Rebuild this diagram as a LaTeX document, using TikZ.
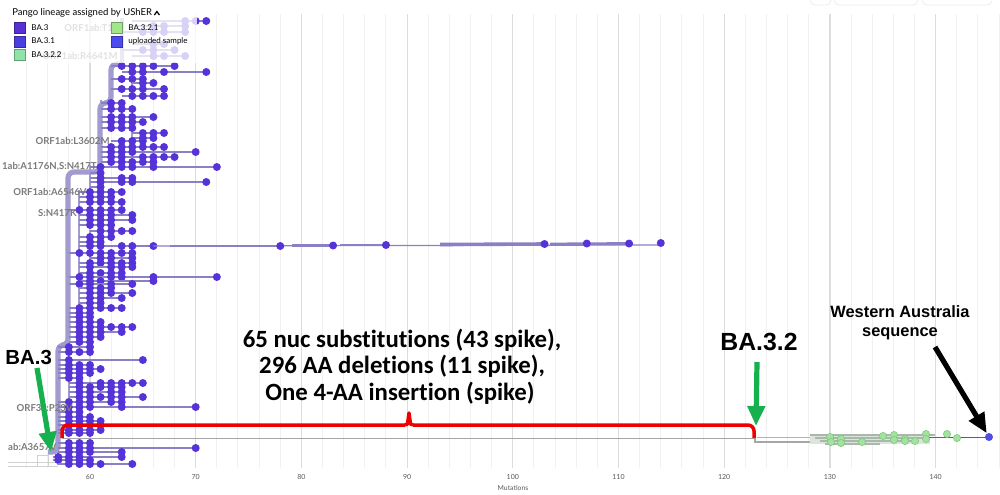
\documentclass[tikz,border=0pt]{standalone}
\usepackage{fontspec}
\setmainfont{Lato}
\newfontfamily\calib[Ligatures=NoCommon]{Carlito}
\newfontfamily\arialf{Liberation Sans}
\usetikzlibrary{arrows.meta}
\definecolor{dotc}{HTML}{5533D9}
\definecolor{brc}{HTML}{8A80C6}
\definecolor{trk}{HTML}{A29BCF}
\definecolor{gminor}{HTML}{F0F0F0}
\definecolor{gmajor}{HTML}{DCDCDC}
\definecolor{lblc}{HTML}{7B7B7B}
\definecolor{redb}{HTML}{EE0000}
\definecolor{greena}{HTML}{16B04F}
\definecolor{ltg}{HTML}{A3E3A0}
\definecolor{ltgb}{HTML}{80C880}
\definecolor{sqa}{HTML}{5A2FD4}
\definecolor{sqb}{HTML}{4A3FE0}
\definecolor{sqc}{HTML}{8FE3A8}
\definecolor{sqd}{HTML}{A2E58C}
\definecolor{sqe}{HTML}{4B4BF0}
\definecolor{upl}{HTML}{4F4FE8}
\definecolor{bandc}{HTML}{A9B9A9}
\tikzset{
  branch/.style={brc, line width=0.6pt},
  trunkthick/.style={trk, line width=2.6pt, rounded corners=3},
  subtrunk/.style={trk, line width=1pt},
  axlbl/.style={font=\fontsize{3.5}{4}\selectfont, text=black!65, inner sep=0},
  treelbl/.style={font=\bfseries\fontsize{4.8}{5.5}\selectfont, text=lblc, inner sep=0, anchor=east},
  leglbl/.style={font=\fontsize{4}{5}\selectfont, inner sep=0, anchor=west},
  legsq/.style={line width=0.3pt},
  bigtxt/.style={font=\calib\bfseries\fontsize{12.4}{13}\selectfont, inner sep=0, anchor=base},
  cladetxt/.style={font=\arialf\bfseries, inner sep=0, anchor=base west},
  fatarrow/.style={line width=2.6pt, -{Triangle[length=10pt,width=8.5pt]}},
}
\begin{document}
\begin{tikzpicture}[x=0.5pt,y=-0.5pt, declare function={mx(\m)=90+(\m-60)*10.57;}]
\useasboundingbox (0,0) rectangle (1000,494);
\fill[white] (0,0) rectangle (1000,494);
% faint toolbar edges at top right
\draw[black!7, line width=0.4pt, rounded corners=2] (810,0) -- (811,5) -- (830,5) -- (831,0);
\draw[black!7, line width=0.4pt, rounded corners=2] (834,0) -- (835,5) -- (917,5) -- (918,0);
\draw[black!7, line width=0.4pt, rounded corners=2] (922,0) -- (923,5) -- (991,5) -- (992,0);
% grid
\foreach \m in {54,56,...,146} { \draw[gminor, line width=0.5pt] ({mx(\m)},14) -- ({mx(\m)},468); }
\foreach \m in {60,70,...,140} { \draw[gmajor, line width=0.6pt] ({mx(\m)},14) -- ({mx(\m)},468); }
% axis
\foreach \m in {60,70,...,140} { \node[axlbl] (t\m) at ({mx(\m)},477) {\m}; }
\node[axlbl, font=\fontsize{3.4}{4}\selectfont] (xlab) at (513,488) {Mutations};

% root lines
\draw[black!18, line width=0.5pt] (8,462) -- (58,462);
\draw[black!18, line width=0.5pt] (8,466) -- (58,466);
\draw[black!18, line width=0.5pt] (37,455) rectangle (48,466);
% BA.3.2 branch
\draw[black!35, line width=0.6pt] (62,438.5) -- (755,438.5) -- (755,442) -- (812,442);
\draw[black!30, line width=0.5pt] (757,437) -- (830,437);
\fill[bandc!40] (810,434) rectangle (930,444);
\draw[bandc, line width=0.6pt] (810,435) -- (935,435);
\draw[bandc, line width=0.6pt] (815,438) -- (925,438);
\draw[bandc, line width=0.6pt] (820,441) -- (915,441);
\draw[bandc, line width=0.6pt] (825,444) -- (880,444);
\draw[upl, line width=0.5pt] (925,437) -- (989,437);
% sub trunks
\draw[subtrunk] ({mx(63)},20) -- ({mx(63)},66);
\draw[subtrunk] ({mx(62)},66) -- ({mx(62)},96);
\draw[subtrunk] ({mx(64)},70) -- ({mx(64)},96);
\draw[subtrunk] ({mx(61)},100) -- ({mx(61)},165);
\draw[subtrunk] ({mx(64)},130) -- ({mx(64)},141);
\draw[subtrunk] ({mx(60)},165) -- ({mx(60)},190);
\draw[subtrunk] ({mx(59)},190) -- ({mx(59)},300);
\draw[subtrunk] ({mx(60)},230) -- ({mx(60)},300);
\draw[subtrunk] ({mx(58)},250) -- ({mx(58)},345);
\draw[subtrunk] ({mx(59)},300) -- ({mx(59)},345);
\draw[subtrunk] ({mx(58)},380) -- ({mx(58)},400);
\draw[subtrunk] ({mx(57)},345) -- ({mx(57)},465);
% thick trunk
\draw[trunkthick] (48,452) -- (58,452) -- (58,345) -- (68,345) -- (68,172) -- (100,172) -- (100,103) -- (111,103) -- (111,64) -- (122,64);
\draw[trk, line width=1.8pt] (122,64) -- (122,18);
% rows
\foreach \yy/\aa/\bb/\ds in {
21/64/71/{69,70,71}, 26/64/69/{66,67,69}, 32/63/69/{65,66,67,69},
44/64/67/{66,67}, 50/63/68/{65,66,68}, 56/64/69/{66,67,69},
66/62/68/{63,64,65,66,68}, 72/63/71/{64,65,67,71}, 79/62/65/{63,64,65},
83/64/66/{65,66}, 89/62/67/{63,64,65,67}, 96/63/67/{64,65,66,67},
103/61/63/{62,63}, 109/61/64/{62,63,64}, 117/61/66/{62,63,64,66},
122/61/65/{62,63,64,65}, 128/61/64/{62,63,64}, 133/64/67/{65,66,67},
138/64/66/{65,66}, 141/62/65/{63,64,65}, 147/61/67/{62,63,64,65,66,67},
152/61/70/{62,63,64,70}, 157/61/68/{62,63,65,66,67,68}, 162/61/66/{62,63,64,65,66},
167/60/72/{61,63,64,66,72}, 173/60/61/{61}, 178/60/64/{61,63,64},
182/60/71/{61,63,64,71}, 187/60/61/{61}, 192/59/63/{60,61,62,63},
197/59/62/{60,61,62}, 202/59/63/{60,61,62,63}, 210/58/63/{59,60,61,62,63},
215/59/64/{60,61,62,64}, 220/59/64/{60,61,62,64}, 225/59/62/{60,61,62},
231/60/64/{61,62,63,64}, 237/59/62/{60,61,62}, 242/59/61/{60,61},
246/59/66/{60,61,63,64,66}, 253/58/64/{59,60,61,62,63,64}, 258/60/64/{61,62,64},
263/59/64/{60,61,62,63,64}, 267/59/64/{60,62,63,64}, 273/59/63/{60,61,62,63},
277/58/72/{59,60,62,63,66,72}, 281/59/66/{60,61,66}, 284/58/64/{59,60,62,64},
288/59/62/{60,61,62}, 293/59/64/{60,61,62,64}, 298/59/63/{60,61,63},
303/59/61/{60,61}, 308/58/63/{59,60,61,62,63}, 313/58/60/{59,60},
317/58/60/{59,60}, 322/58/61/{59,60,61}, 327/58/64/{59,60,61,62,63,64},
332/58/63/{59,60,61,63}, 337/58/61/{59,60,61}, 342/58/60/{59,60},
347/57/60/{58,60}, 352/57/60/{58,59,60}, 360/57/65/{58,65},
365/57/60/{58,59,60}, 369/57/61/{58,59,60,61}, 373/57/60/{58,59,60},
378/57/59/{58,59}, 383/58/65/{59,61,62,63,64,65}, 387/58/63/{59,60,61,62,63},
392/58/63/{59,60,62,63}, 397/58/65/{59,60,61,62,63,65}, 402/57/63/{58,59,60,62,63},
407/57/70/{58,59,60,63,70}, 412/57/59/{58,59}, 417/57/60/{58,59,60},
421/57/61/{58,59,60,61}, 425/57/61/{58,59,60,61}, 430/57/61/{58,59,60,61},
433/57/60/{58,59,60}, 443/57/60/{58,59,60}, 448/57/70/{58,59,60,70},
452/57/63/{58,59,60,63}, 457/56.5/63/{57,58,59,63}, 460/56.5/60/{57,58,59,60},
464/57/64/{58,59,60,61,64}}{
  \draw[branch] ({mx(\aa)},\yy) -- ({mx(\bb)},\yy);
  \foreach \m in \ds { \fill[dotc] ({mx(\m)},\yy) circle[radius=4]; }
}
% long branch
\draw[branch] ({mx(66)},246) -- ({mx(114)},245);
\draw[brc, line width=1.4pt] (170,246) -- (281,246);
\draw[brc, line width=1.4pt] (292,245.5) -- (333,245.5);
\draw[brc, line width=1.4pt] (340,245) -- (386,245);
\draw[brc, line width=1.8pt] (440,244.5) -- (545,244);
\draw[brc, line width=1.4pt] (550,244) -- (629,243.5);
\foreach \m/\yy in {78/246,83/245.5,88/245,103/244,107/243.5,111/243.5,114/243} { \fill[dotc] ({mx(\m)},\yy) circle[radius=4]; }
% tree labels
\node[treelbl, anchor=west] (lt) at (64,28) {ORF1ab:T1};
\node[treelbl] (lr) at (118,56) {ORF1ab:R4641M};
\node[treelbl] (l1) at (110,141) {ORF1ab:L3602M};
\node[treelbl] (l2) at (97,167) {1ab:A1176N,S:N417T};
\node[treelbl] (l3) at (87,192) {ORF1ab:A6546V};
\node[treelbl] (l4) at (77,213) {S:N417K};
\node[treelbl] (l5) at (73,408) {ORF3a:P23V};
\node[treelbl] (l6) at (57,447) {ab:A3657V};

% legend backdrop
\fill[white, opacity=0.78] (0,0) rectangle (197,63);
\node[leglbl, font=\fontsize{4.75}{5.5}\selectfont] (lt0) at (12,13) {Pango lineage assigned by UShER};
\draw[black, line width=0.6pt] (lt0.east) ++(2,2) -- ++(2.5,-3.5) -- ++(2.5,3.5);
\draw[legsq, fill=sqa, draw=sqa!70!black] (14,22) rectangle (25,33);
\node[leglbl] (lg1) at (31,27.5) {BA.3};
\draw[legsq, fill=sqb, draw=sqb!70!black] (14,36) rectangle (25,47);
\node[leglbl] (lg2) at (31,41) {BA.3.1};
\draw[legsq, fill=sqc, draw=sqc!70!black] (14,49) rectangle (25,60);
\node[leglbl] (lg3) at (31,54.5) {BA.3.2.2};
\draw[legsq, fill=sqd, draw=sqd!70!black] (111,22) rectangle (122,33);
\node[leglbl] (lg4) at (128,27.5) {BA.3.2.1};
\draw[legsq, fill=sqe, draw=sqe!70!black] (111,36) rectangle (122,47);
\node[leglbl] (lg5) at (128,41) {uploaded sample};

% BA.3.2 tips
\foreach \xx/\yy in {830/437,831/442,841/439,841/443,862/442,883/436,894/435,894/440,905/439,905/441,915/441,926/434,926/439,947/434,957/438} {
  \draw[ltgb, fill=ltg, line width=0.3pt] (\xx,\yy) circle[radius=3.6];
}
\node[circle, fill=upl, inner sep=0, minimum size=4pt] (ws) at (989,437) {};

% red bracket
\draw[redb, line width=1.75pt, line join=round, rounded corners=3] (62,438) -- (62,425) -- (405,425);
\draw[redb, line width=1.75pt, line join=round] (405,425) -- (407.5,424) -- (409,413) -- (410.5,424) -- (413,425);
\draw[redb, line width=1.75pt, line join=round, rounded corners=3] (413,425) -- (754,425) -- (754,438);

% text
\node[bigtxt] (m1) at (402,347) {65 nuc substitutions (43 spike),};
\node[bigtxt] (m2) at (402,373) {296 AA deletions (11 spike),};
\node[bigtxt] (m3) at (400,400) {One 4-AA insertion (spike)};
\node[cladetxt, font=\arialf\bfseries\fontsize{10.2}{12}\selectfont] (ba3) at (5,364) {BA.3};
\node[cladetxt, font=\arialf\bfseries\fontsize{12.4}{14}\selectfont] (ba32) at (720,350) {BA.3.2};
\node[inner sep=0, anchor=base, font=\arialf\bfseries\fontsize{8.2}{10}\selectfont] (wa1) at (900,317) {Western Australia};
\node[inner sep=0, anchor=base, font=\arialf\bfseries\fontsize{8.2}{10}\selectfont] (wa2) at (900,336) {sequence};

% arrows
\coordinate (g1s) at (37,368);
\coordinate (g1e) at (51,452);
\draw[fatarrow, greena] (g1s) -- (g1e);
\coordinate (g2s) at (757,362);
\coordinate (g2e) at (756,426);
\draw[fatarrow, greena] (g2s) -- (g2e);
\coordinate (b1s) at (935,347);
\draw[fatarrow, black] (b1s) -- (ws);
\end{tikzpicture}
\end{document}
